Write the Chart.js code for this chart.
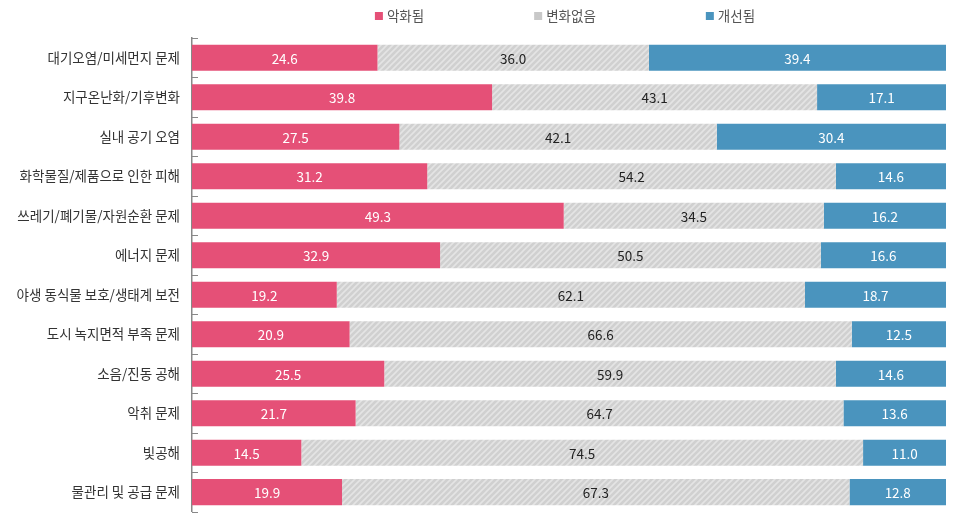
<!DOCTYPE html>
<html>
<head>
<meta charset="utf-8">
<script src="https://cdn.jsdelivr.net/npm/chart.js@4.4.1/dist/chart.umd.min.js"></script>
<style>
  html, body { margin: 0; padding: 0; background: #fff; }
  #wrap { width: 965px; height: 524px; }
</style>
</head>
<body>
<div id="wrap"><canvas id="myChart"></canvas></div>
<script>
const categories = [
  '대기오염/미세먼지 문제',
  '지구온난화/기후변화',
  '실내 공기 오염',
  '화학물질/제품으로 인한 피해',
  '쓰레기/폐기물/자원순환 문제',
  '에너지 문제',
  '야생 동식물 보호/생태계 보전',
  '도시 녹지면적 부족 문제',
  '소음/진동 공해',
  '악취 문제',
  '빛공해',
  '물관리 및 공급 문제'
];
const worse  = [24.6, 39.8, 27.5, 31.2, 49.3, 32.9, 19.2, 20.9, 25.5, 21.7, 14.5, 19.9];
const same   = [36.0, 43.1, 42.1, 54.2, 34.5, 50.5, 62.1, 66.6, 59.9, 64.7, 74.5, 67.3];
const better = [39.4, 17.1, 30.4, 14.6, 16.2, 16.6, 18.7, 12.5, 14.6, 13.6, 11.0, 12.8];

const FONT = "'Noto Sans CJK KR', 'Noto Sans', sans-serif";

// hatch for the middle series
function hatch() {
  const c = document.createElement('canvas');
  c.width = 6; c.height = 6;
  const g = c.getContext('2d');
  g.fillStyle = '#d0d0d0';
  g.fillRect(0, 0, 6, 6);
  g.strokeStyle = '#e4e4e4';
  g.lineWidth = 1.6;
  g.beginPath();
  g.moveTo(0, 6); g.lineTo(6, 0);
  g.moveTo(-3, 3); g.lineTo(3, -3);
  g.moveTo(3, 9); g.lineTo(9, 3);
  g.stroke();
  return document.getElementById('myChart').getContext('2d').createPattern(c, 'repeat');
}

const data = {
  labels: categories,
  datasets: [
    { label: '악화됨', data: worse, backgroundColor: '#e55077', textColor: '#fff', swatch: '#e55077' },
    { label: '변화없음', data: same, backgroundColor: hatch(), textColor: '#222', swatch: '#c8c8c8' },
    { label: '개선됨', data: better, backgroundColor: '#4a94be', textColor: '#fff', swatch: '#4a94be' }
  ]
};

// values inside the bars
const valueLabels = {
  id: 'valueLabels',
  afterDatasetsDraw(chart) {
    const ctx = chart.ctx;
    ctx.save();
    ctx.font = '13.5px ' + FONT;
    ctx.textAlign = 'center';
    ctx.textBaseline = 'middle';
    chart.data.datasets.forEach((ds, i) => {
      chart.getDatasetMeta(i).data.forEach((bar, j) => {
        const p = bar.getProps(['x', 'y', 'base'], true);
        ctx.fillStyle = ds.textColor;
        ctx.fillText(ds.data[j].toFixed(1), (p.x + p.base) / 2, p.y + 1);
      });
    });
    ctx.restore();
  }
};

// short ticks pointing into the plot, between categories
const innerTicks = {
  id: 'innerTicks',
  afterDraw(chart) {
    const y = chart.scales.y;
    const ctx = chart.ctx;
    const band = (y.bottom - y.top) / categories.length;
    ctx.save();
    ctx.strokeStyle = '#888';
    ctx.lineWidth = 1;
    for (let i = 0; i <= categories.length; i++) {
      const py = Math.round(y.top + i * band) + 0.5;
      ctx.beginPath();
      ctx.moveTo(y.right, py);
      ctx.lineTo(y.right + 6, py);
      ctx.stroke();
    }
    ctx.restore();
  }
};

// legend row above the plot
const topLegend = {
  id: 'topLegend',
  afterDraw(chart) {
    const ctx = chart.ctx;
    const gap = 110, box = 8;
    ctx.save();
    ctx.font = '13.5px ' + FONT;
    ctx.textBaseline = 'middle';
    const items = chart.data.datasets.map(ds => ({ ds, w: box + 4 + ctx.measureText(ds.label).width }));
    const total = items.reduce((s, it) => s + it.w, 0) + gap * (items.length - 1);
    let x = (chart.chartArea.left + chart.chartArea.right) / 2 - total / 2 - 4;
    const cy = 16;
    items.forEach(it => {
      ctx.fillStyle = it.ds.swatch;
      ctx.fillRect(x, cy - 4, box, box);
      ctx.fillStyle = '#555';
      ctx.fillText(it.ds.label, x + box + 4, cy);
      x += it.w + gap;
    });
    ctx.restore();
  }
};

const config = {
  type: 'bar',
  data: data,
  options: {
    indexAxis: 'y',
    responsive: true,
    maintainAspectRatio: false,
    animation: false,
    layout: { padding: { top: 38, right: 19, bottom: 12, left: 0 } },
    datasets: { bar: { categoryPercentage: 1, barPercentage: 0.66 } },
    plugins: { legend: { display: false }, tooltip: { enabled: false } },
    scales: {
      x: { stacked: true, min: 0, max: 100, display: false },
      y: {
        stacked: true,
        grid: { display: false },
        border: { display: true, color: '#888', width: 1.5 },
        ticks: { color: '#333', font: { size: 13.5, family: FONT }, padding: 4 },
        afterFit(scale) { scale.width = 192; }
      }
    }
  },
  plugins: [valueLabels, innerTicks, topLegend]
};

const myChart = new Chart(document.getElementById('myChart').getContext('2d'), config);
</script>
</body>
</html>
